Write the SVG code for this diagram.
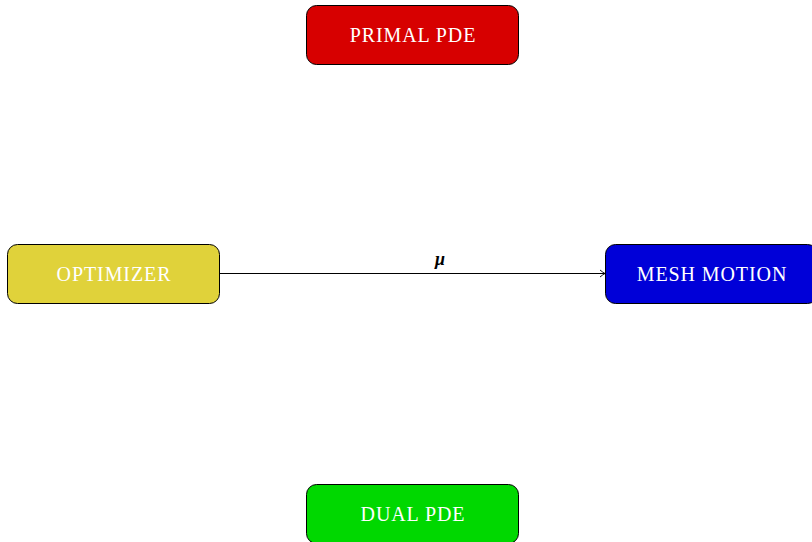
<svg xmlns="http://www.w3.org/2000/svg" width="812" height="542" viewBox="0 0 812 542">
<defs>
<style>
.box{stroke:#000;stroke-width:1}
.lbl{font-family:"Liberation Serif","DejaVu Serif",serif;font-size:20px;letter-spacing:0.9px;fill:#fff;text-anchor:middle;dominant-baseline:central}
.edge{stroke:#000;stroke-width:1;fill:none}
</style>
<marker id="arr" markerWidth="10" markerHeight="10" refX="8" refY="5" orient="auto" markerUnits="userSpaceOnUse">
<path d="M3,1.5 Q6,4 8,5 Q6,6 3,8.5" fill="none" stroke="#000" stroke-width="0.9"/>
</marker>
</defs>
<rect width="812" height="542" fill="#fff"/>
<g id="primal">
<rect class="box" x="306.5" y="5.5" width="212" height="59" rx="10" fill="#d70000"/>
<text class="lbl" x="413" y="35">PRIMAL PDE</text>
</g>
<g id="optimizer">
<rect class="box" x="7.5" y="244.5" width="212" height="59" rx="10" fill="#e0d23a"/>
<text class="lbl" x="114" y="274">OPTIMIZER</text>
</g>
<g id="mesh">
<rect class="box" x="605.5" y="244.5" width="212" height="59" rx="10" fill="#0000d8"/>
<text class="lbl" x="712" y="274">MESH MOTION</text>
</g>
<g id="dual">
<rect class="box" x="306.5" y="484.5" width="212" height="59" rx="10" fill="#00d800"/>
<text class="lbl" x="413" y="514">DUAL PDE</text>
</g>
<g id="connectors">
<path class="edge" d="M219.5,273.5 H605" marker-end="url(#arr)"/>
<text x="440" y="265" font-family="Liberation Serif,serif" font-size="18" font-weight="bold" font-style="italic" text-anchor="middle" fill="#000">μ</text>
</g>
</svg>
